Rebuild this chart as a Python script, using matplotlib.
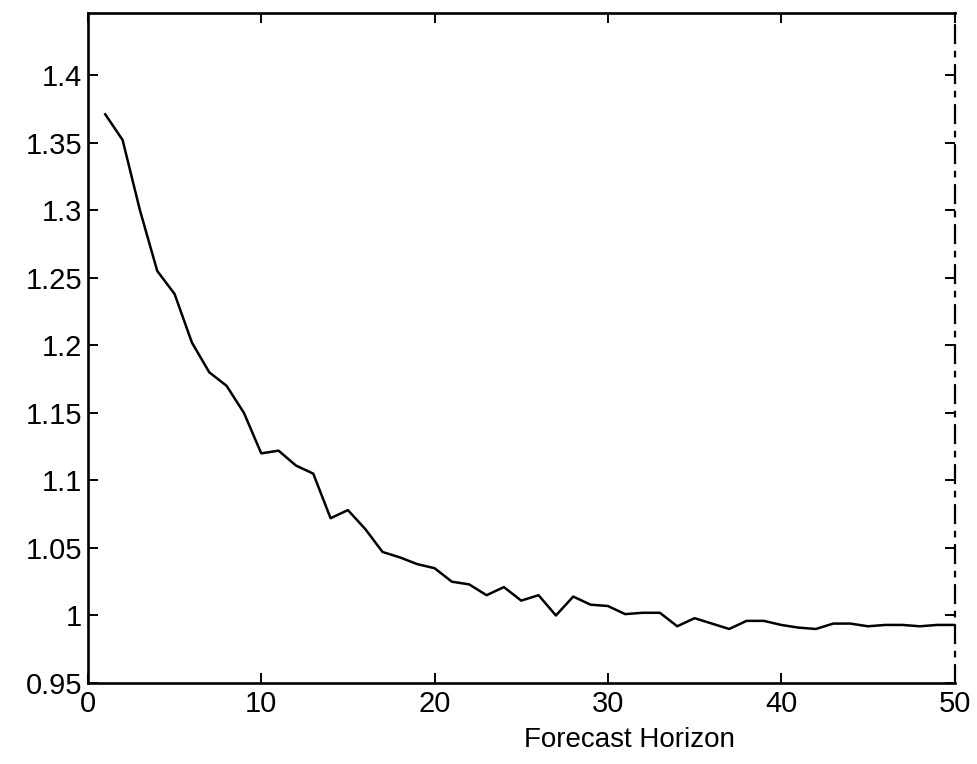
import numpy as np
import matplotlib.pyplot as plt

# forecast horizon and the error ratio
horizon = np.arange(1, 51)
ratio = [1.371, 1.352, 1.300, 1.255, 1.238, 1.202, 1.180, 1.170, 1.150, 1.120,
         1.122, 1.111, 1.105, 1.072, 1.078, 1.064, 1.047, 1.043, 1.038, 1.035,
         1.025, 1.023, 1.015, 1.021, 1.011, 1.015, 1.000, 1.014, 1.008, 1.007,
         1.001, 1.002, 1.002, 0.992, 0.998, 0.994, 0.990, 0.996, 0.996, 0.993,
         0.991, 0.990, 0.994, 0.994, 0.992, 0.993, 0.993, 0.992, 0.993, 0.993]

xticks = [0, 10, 20, 30, 40, 50]
yticks = [0.95, 1.0, 1.05, 1.1, 1.15, 1.2, 1.25, 1.3, 1.35, 1.4]
ytick_labels = ['0.95', '1', '1.05', '1.1', '1.15', '1.2', '1.25', '1.3', '1.35', '1.4']

plt.rcParams['font.family'] = ['Liberation Sans', 'DejaVu Sans']

fig = plt.figure(figsize=(9.77, 7.64), dpi=100)
ax = fig.add_axes([0.090, 0.106, 0.887, 0.877])

ax.plot(horizon, ratio, color='black', linewidth=1.8)

ax.set_xlim(0, 50)
ax.set_ylim(0.95, 1.446)
ax.set_xticks(xticks)
ax.set_xticklabels([str(t) for t in xticks])
ax.set_yticks(yticks)
ax.set_yticklabels(ytick_labels)

ax.tick_params(direction='in', length=7, width=1.4, labelsize=21,
               top=True, right=True, pad=4)
ax.tick_params(axis='x', pad=5)

for side in ['left', 'bottom', 'top']:
    ax.spines[side].set_linewidth(1.9)
ax.spines['right'].set_linewidth(1.6)
ax.spines['right'].set_linestyle((0, (8, 4, 2, 4)))

# the label sits right of centre in the original
ax.text(0.625, -0.085, 'Forecast Horizon', transform=ax.transAxes,
        ha='center', va='center', fontsize=20)

fig.savefig('out.png', dpi=100)
